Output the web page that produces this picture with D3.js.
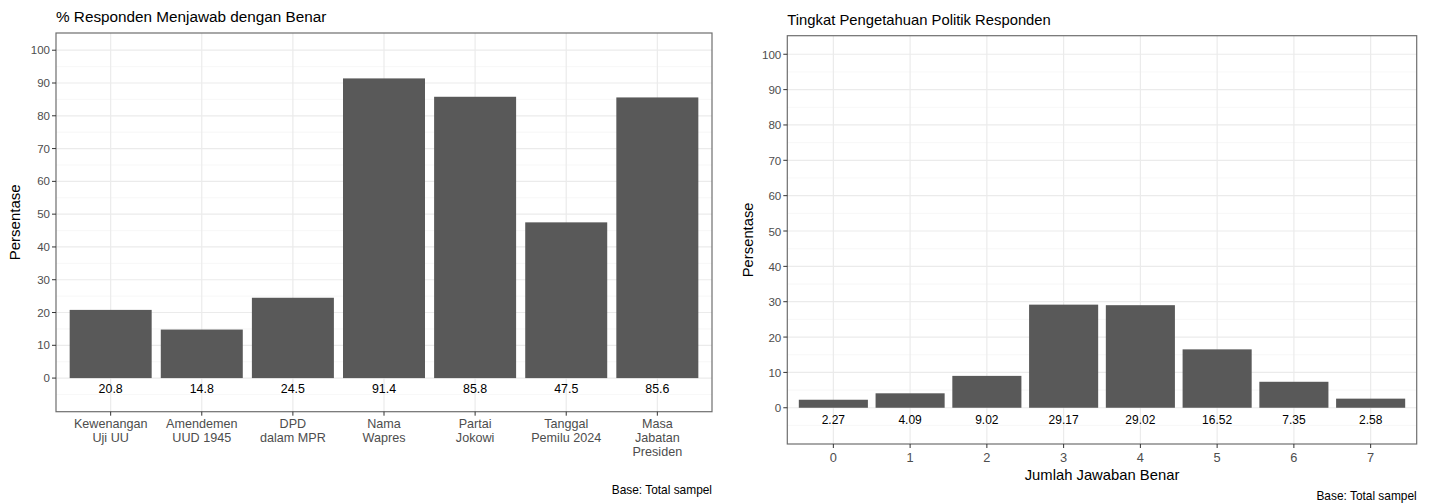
<!DOCTYPE html>
<html>
<head>
<meta charset="utf-8">
<script src="https://cdn.jsdelivr.net/npm/d3@7"></script>
<style>
  html, body { margin: 0; padding: 0; background: #fff; }
  svg { display: block; font-family: "Liberation Sans", Arial, sans-serif; }
</style>
</head>
<body>
<svg id="chart" width="1429" height="504"></svg>
<script>
// ---- Data ----
const leftTitle = "% Responden Menjawab dengan Benar";
const leftCategories = [
  ["Kewenangan", "Uji UU"],
  ["Amendemen", "UUD 1945"],
  ["DPD", "dalam MPR"],
  ["Nama", "Wapres"],
  ["Partai", "Jokowi"],
  ["Tanggal", "Pemilu 2024"],
  ["Masa", "Jabatan", "Presiden"]
];
const leftValues = [20.8, 14.8, 24.5, 91.4, 85.8, 47.5, 85.6];
const leftLabels = ["20.8", "14.8", "24.5", "91.4", "85.8", "47.5", "85.6"];

const rightTitle = "Tingkat Pengetahuan Politik Responden";
const rightCategories = ["0", "1", "2", "3", "4", "5", "6", "7"];
const rightValues = [2.27, 4.09, 9.02, 29.17, 29.02, 16.52, 7.35, 2.58];
const rightLabels = ["2.27", "4.09", "9.02", "29.17", "29.02", "16.52", "7.35", "2.58"];

const yTicks = [0, 10, 20, 30, 40, 50, 60, 70, 80, 90, 100];
const yMinor = [-5, 5, 15, 25, 35, 45, 55, 65, 75, 85, 95];
const yAxisTitle = "Persentase";
const xAxisTitleRight = "Jumlah Jawaban Benar";
const baseNote = "Base: Total sampel";

// ---- Drawing ----
const svg = d3.select("#chart");
const BAR = "#595959", GRID = "#EBEBEB", GRIDMINOR = "#F3F3F3", BORDER = "#6e6e6e", TICKTXT = "#4D4D4D";

function drawPanel(o) {
  const g = svg.append("g");
  const cats = o.categories.map((d, i) => i);
  const x = d3.scalePoint().domain(cats).range([o.x0, o.x1]).padding(0.6);
  const y = d3.scaleLinear().domain([-10.25, 105.25]).range([o.y1, o.y0]);
  const bw = x.step() * 0.9;

  // grid
  g.selectAll(".ymin").data(yMinor).join("line")
    .attr("x1", o.x0).attr("x2", o.x1).attr("y1", d => y(d)).attr("y2", d => y(d))
    .attr("stroke", GRIDMINOR).attr("stroke-width", 0.7);
  g.selectAll(".ymaj").data(yTicks).join("line")
    .attr("x1", o.x0).attr("x2", o.x1).attr("y1", d => y(d)).attr("y2", d => y(d))
    .attr("stroke", GRID).attr("stroke-width", 1.2);
  g.selectAll(".xmaj").data(cats).join("line")
    .attr("x1", d => x(d)).attr("x2", d => x(d)).attr("y1", o.y0).attr("y2", o.y1)
    .attr("stroke", GRID).attr("stroke-width", 1.2);

  // bars
  g.selectAll(".bar").data(o.values).join("rect")
    .attr("x", (d, i) => x(i) - bw / 2).attr("width", bw)
    .attr("y", d => y(d)).attr("height", d => y(0) - y(d))
    .attr("fill", BAR);

  // value labels
  g.selectAll(".val").data(o.labels).join("text")
    .attr("x", (d, i) => x(i)).attr("y", y(-3.4))
    .attr("text-anchor", "middle").attr("dominant-baseline", "central")
    .attr("font-size", o.valSize).attr("fill", "#000").text(d => d);

  // border
  g.append("rect").attr("x", o.x0).attr("y", o.y0)
    .attr("width", o.x1 - o.x0).attr("height", o.y1 - o.y0)
    .attr("fill", "none").attr("stroke", BORDER).attr("stroke-width", 1.2);

  // y axis ticks
  g.selectAll(".yt").data(yTicks).join("line")
    .attr("x1", o.x0 - 4).attr("x2", o.x0).attr("y1", d => y(d)).attr("y2", d => y(d))
    .attr("stroke", "#333").attr("stroke-width", 1);
  g.selectAll(".ytl").data(yTicks).join("text")
    .attr("x", o.x0 - 6).attr("y", d => y(d))
    .attr("text-anchor", "end").attr("dominant-baseline", "central")
    .attr("font-size", o.yTickSize).attr("fill", TICKTXT).text(d => d);

  // x axis ticks
  g.selectAll(".xt").data(cats).join("line")
    .attr("x1", d => x(d)).attr("x2", d => x(d)).attr("y1", o.y1).attr("y2", o.y1 + 4)
    .attr("stroke", "#333").attr("stroke-width", 1);
  o.categories.forEach((c, i) => {
    const lines = Array.isArray(c) ? c : [c];
    lines.forEach((ln, j) => {
      g.append("text").attr("x", x(i)).attr("y", o.xLab0 + j * o.xLabStep)
        .attr("text-anchor", "middle").attr("dominant-baseline", "central")
        .attr("font-size", o.xTickSize).attr("fill", TICKTXT).text(ln);
    });
  });

  // titles
  g.append("text").attr("x", o.x0).attr("y", o.titleY)
    .attr("font-size", o.titleSize).attr("fill", "#000").text(o.title);
  g.append("text")
    .attr("transform", `translate(${o.yTitleX},${(o.y0 + o.y1) / 2}) rotate(-90)`)
    .attr("text-anchor", "middle").attr("dominant-baseline", "central")
    .attr("font-size", o.axisTitleSize).attr("fill", "#000").text(yAxisTitle);
  if (o.xTitle) {
    g.append("text").attr("x", (o.x0 + o.x1) / 2).attr("y", o.xTitleY)
      .attr("text-anchor", "middle").attr("dominant-baseline", "central")
      .attr("font-size", o.axisTitleSize).attr("fill", "#000").text(o.xTitle);
  }
  g.append("text").attr("x", o.x1).attr("y", o.noteY)
    .attr("text-anchor", "end").attr("dominant-baseline", "central")
    .attr("font-size", o.noteSize).attr("fill", "#000").text(baseNote);
}

drawPanel({
  categories: leftCategories, values: leftValues, labels: leftLabels,
  x0: 56, x1: 712, y0: 33, y1: 411.7,
  title: leftTitle, titleY: 22, titleSize: 15.3,
  yTitleX: 14, axisTitleSize: 15,
  yTickSize: 11.5, xTickSize: 12.6, valSize: 12.4,
  xLab0: 424.3, xLabStep: 13.8,
  noteY: 490, noteSize: 11.9
});

drawPanel({
  categories: rightCategories, values: rightValues, labels: rightLabels,
  x0: 787.3, x1: 1416.7, y0: 35.7, y1: 444,
  title: rightTitle, titleY: 24.5, titleSize: 14.8,
  yTitleX: 748, axisTitleSize: 14.8,
  yTickSize: 11.6, xTickSize: 12.8, valSize: 12,
  xLab0: 457.3, xLabStep: 14,
  xTitle: xAxisTitleRight, xTitleY: 475,
  noteY: 496, noteSize: 11.9
});
</script>
</body>
</html>
